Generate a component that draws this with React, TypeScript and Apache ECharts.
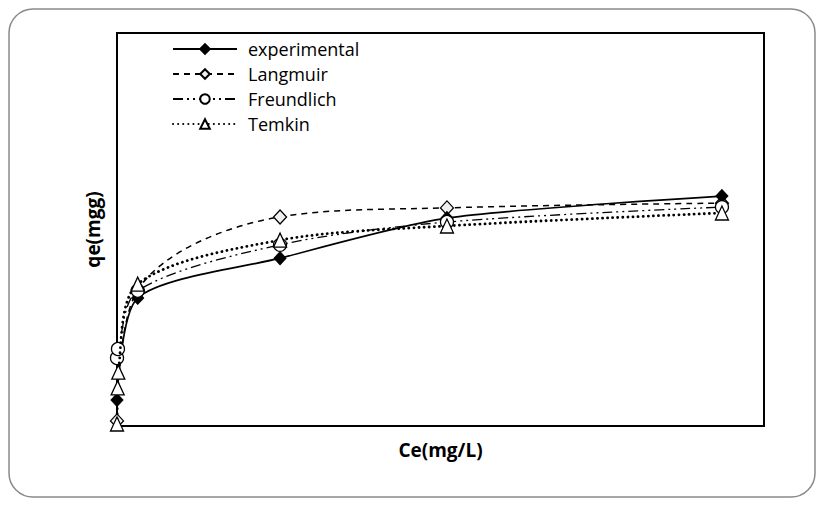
import React, { useEffect, useRef } from "react";
import * as echarts from "echarts";

const seriesNames = ["experimental", "Langmuir", "Freundlich", "Temkin"];

const expX = [0, 3.2, 25.2, 51, 93.5];
const expY = [6.6, 32.6, 42.7, 52.9, 58.5];

const langX = [0, 3.2, 25.2, 51, 93.5];
const langY = [1.3, 34.6, 53.2, 55.5, 56.7];

const freX = [0, 0.15, 3.2, 25.2, 51, 93.5];
const freY = [17.3, 19.6, 34.4, 46.1, 51.9, 55.7];

const temX = [0, 0.1, 0.2, 3.2, 25.2, 51, 93.5];
const temY = [0.5, 9.7, 13.7, 36.1, 47.3, 50.9, 54.2];

const xTitle = "Ce(mg/L)";
const yTitle = "qe(mgg)";

const pairs = (xs: number[], ys: number[]) => xs.map((x, i) => [x, ys[i]]);

export default function App() {
  const ref = useRef<HTMLDivElement>(null);
  useEffect(() => {
    if (!ref.current) return;
    const chart = echarts.init(ref.current, undefined, { renderer: "svg" });
    const font = "'Open Sans', 'Liberation Sans', sans-serif";
    chart.setOption({
      animation: false,
      backgroundColor: "#ffffff",
      graphic: [
        {
          type: "rect",
          shape: { x: 9, y: 9, width: 806, height: 488, r: 24 },
          style: { fill: "none", stroke: "#8a8a8a", lineWidth: 1.5 },
          z: -1,
        },
      ],
      grid: {
        left: 117,
        top: 33,
        right: 59,
        bottom: 79,
        show: true,
        borderColor: "#000",
        borderWidth: 2,
        backgroundColor: "transparent",
      },
      legend: {
        orient: "vertical",
        left: 167,
        top: 33,
        itemWidth: 64,
        itemHeight: 12,
        itemGap: 3,
        data: seriesNames,
        textStyle: {
          fontSize: 18,
          fontFamily: font,
          color: "#000",
          lineHeight: 22,
          padding: [0, 0, 0, 6],
        },
      },
      xAxis: {
        type: "value",
        min: 0,
        max: 100,
        axisLabel: { show: false },
        axisTick: { show: false },
        axisLine: { show: false },
        splitLine: { show: false },
        name: xTitle,
        nameLocation: "middle",
        nameGap: 14,
        nameTextStyle: {
          fontSize: 19,
          fontWeight: "bold",
          fontFamily: font,
          color: "#000",
          verticalAlign: "top",
        },
      },
      yAxis: {
        type: "value",
        min: 0,
        max: 100,
        axisLabel: { show: false },
        axisTick: { show: false },
        axisLine: { show: false },
        splitLine: { show: false },
        name: yTitle,
        nameLocation: "middle",
        nameGap: 15,
        nameTextStyle: { fontSize: 19, fontWeight: "bold", fontFamily: font, color: "#000" },
      },
      series: [
        {
          name: seriesNames[0],
          type: "line",
          data: pairs(expX, expY),
          smooth: 0.25,
          symbol: "diamond",
          symbolSize: [12, 13],
          lineStyle: { color: "#000", width: 1.7, type: "solid" },
          itemStyle: { color: "#000", borderColor: "#000", borderWidth: 1 },
          z: 4,
        },
        {
          name: seriesNames[1],
          type: "line",
          data: pairs(langX, langY),
          smooth: 0.35,
          symbol: "diamond",
          symbolSize: [13, 14],
          lineStyle: { color: "#000", width: 1.5, type: [6, 5] },
          itemStyle: { color: "#f0f0f0", borderColor: "#000", borderWidth: 1.3 },
          z: 3,
        },
        {
          name: seriesNames[2],
          type: "line",
          data: pairs(freX, freY),
          smooth: 0.3,
          symbol: "circle",
          symbolSize: 13,
          lineStyle: { color: "#000", width: 1.3, type: [10, 4, 2, 4, 2, 4] },
          itemStyle: { color: "#ffffff", borderColor: "#000", borderWidth: 1.3 },
          z: 5,
        },
        {
          name: seriesNames[3],
          type: "line",
          data: pairs(temX, temY),
          smooth: 0.3,
          symbol: "triangle",
          symbolSize: [13, 14],
          lineStyle: { color: "#000", width: 2.8, type: [0.1, 5], cap: "round" },
          itemStyle: { color: "#ffffff", borderColor: "#000", borderWidth: 1.3 },
          z: 6,
        },
      ],
    });
    return () => chart.dispose();
  }, []);
  return (
    <div
      ref={ref}
      style={{ position: "fixed", left: 0, top: 0, width: 823, height: 505, background: "#fff" }}
    />
  );
}
